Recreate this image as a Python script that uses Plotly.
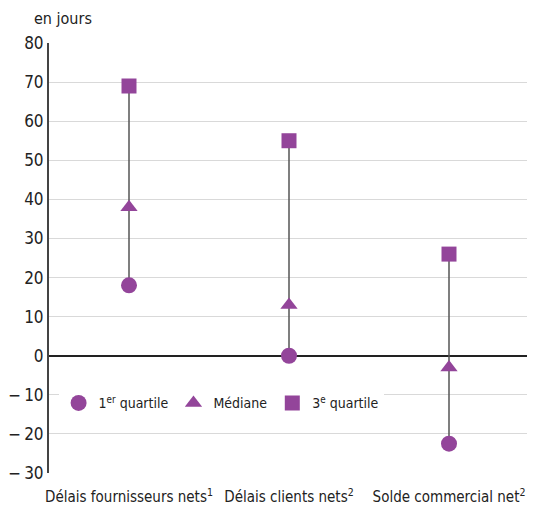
import plotly.graph_objects as go

categories = ["Délais fournisseurs nets<sup>1</sup>", "Délais clients nets<sup>2</sup>", "Solde commercial net<sup>2</sup>"]
q1 = [18, 0, -22.5]
median = [38, 13, -3]
q3 = [69, 55, 26]
y_ticks = [80, 70, 60, 50, 40, 30, 20, 10, 0, -10, -20, -30]
y_tick_text = ["80", "70", "60", "50", "40", "30", "20", "10", "0", "−\u200910", "−\u200920", "−\u200930"]

purple = "#93459A"
font_family = "Liberation Sans Narrow, DejaVu Sans Condensed, Roboto Condensed, Roboto, sans-serif"

fig = go.Figure()
for c, lo, hi in zip(categories, q1, q3):
    fig.add_trace(go.Scatter(x=[c, c], y=[lo, hi], mode="lines",
                             line=dict(color="#555555", width=1.5),
                             showlegend=False, hoverinfo="skip"))

fig.add_trace(go.Scatter(x=categories, y=q1, mode="markers", name="1<sup>er</sup> quartile",
                         marker=dict(symbol="circle", size=16, color=purple)))
fig.add_trace(go.Scatter(x=categories, y=median, mode="markers", name="Médiane",
                         marker=dict(symbol="triangle-up", size=15, color=purple)))
fig.add_trace(go.Scatter(x=categories, y=q3, mode="markers", name="3<sup>e</sup> quartile",
                         marker=dict(symbol="square", size=15, color=purple)))

# page body has an 8px margin: figure is drawn at (8, 8)
fig.update_layout(
    width=527, height=497,
    margin=dict(l=41, r=6, t=35, b=32, autoexpand=False),
    paper_bgcolor="white", plot_bgcolor="white",
    font=dict(family=font_family, size=16, color="#222222"),
    showlegend=True,
    legend=dict(orientation="h", x=0.02, y=0.162, xanchor="left", yanchor="middle",
                bgcolor="white", font=dict(size=14), itemwidth=30, traceorder="normal"),
    annotations=[dict(text="en jours", xref="paper", yref="paper", x=-0.036, y=1.0,
                      xanchor="left", yanchor="bottom", yshift=13,
                      showarrow=False, font=dict(size=16))],
)

fig.update_xaxes(range=[-0.5, 2.5], showgrid=False, showline=False, ticks="", zeroline=False,
                 tickfont=dict(size=15), automargin=False, ticklabelstandoff=13)
fig.update_yaxes(range=[-30, 80], tickvals=y_ticks, ticktext=y_tick_text,
                 showgrid=True, gridcolor="#d9d9d9", gridwidth=1.2,
                 zeroline=True, zerolinecolor="#222222", zerolinewidth=1.5,
                 showline=True, linecolor="#444444", linewidth=2,
                 ticks="", tickfont=dict(size=17), automargin=False)

fig.write_html("out.html")
